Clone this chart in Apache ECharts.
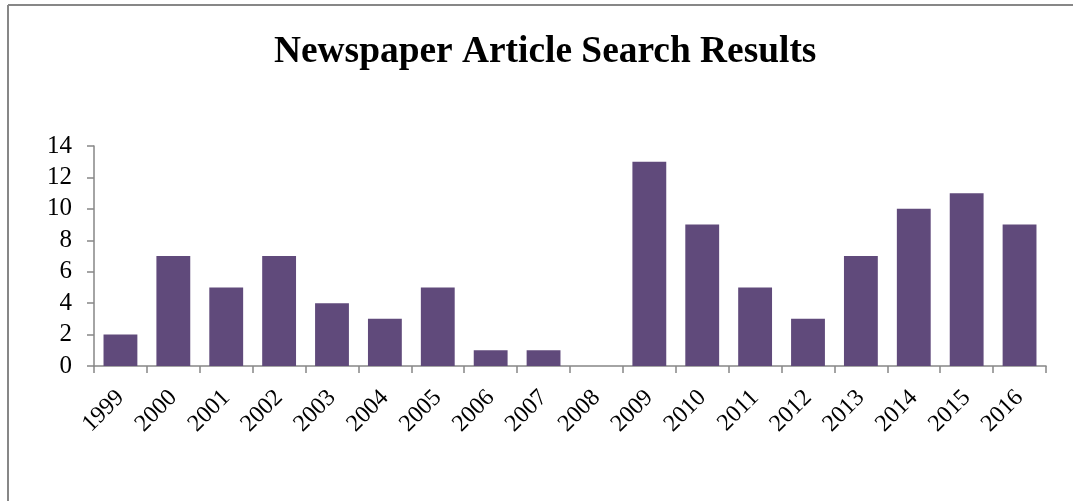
<!DOCTYPE html>
<html>
<head>
<meta charset="utf-8">
<script src="https://cdn.jsdelivr.net/npm/echarts@6/dist/echarts.min.js"></script>
<style>
  html, body { margin: 0; padding: 0; background: #fff; }
  #chart { width: 1073px; height: 501px; }
</style>
</head>
<body>
<div id="chart"></div>
<script>
// Yearly counts of newspaper articles returned by the search
const years = ['1999','2000','2001','2002','2003','2004','2005','2006','2007','2008',
               '2009','2010','2011','2012','2013','2014','2015','2016'];
const articleCounts = [2, 7, 5, 7, 4, 3, 5, 1, 1, 0, 13, 9, 5, 3, 7, 10, 11, 9];
const yTicks = { min: 0, max: 14, interval: 2 };

const serif = '"Liberation Serif", "Times New Roman", serif';
const axisGray = '#868686';

const chart = echarts.init(document.getElementById('chart'), null, { renderer: 'canvas' });
chart.setOption({
  animation: false,
  backgroundColor: '#ffffff',
  title: {
    text: 'Newspaper Article Search Results',
    left: 269,
    top: 29,
    textStyle: { fontFamily: serif, fontWeight: 'bold', fontSize: 37.4, color: '#000' }
  },
  graphic: [
    { type: 'line', shape: { x1: 8, y1: 5, x2: 1073, y2: 5 }, style: { stroke: '#878787', lineWidth: 2 } },
    { type: 'line', shape: { x1: 8, y1: 5, x2: 8, y2: 501 }, style: { stroke: '#878787', lineWidth: 2 } }
  ],
  grid: { left: 94, right: 27, top: 146, bottom: 135, containLabel: false },
  xAxis: {
    type: 'category',
    data: years,
    axisLine: { lineStyle: { color: axisGray, width: 1.5 } },
    axisTick: { show: true, length: 7, alignWithLabel: false, lineStyle: { color: axisGray, width: 1.5 } },
    axisLabel: {
      rotate: 45, margin: 28,
      fontFamily: serif, fontSize: 24, color: '#000', interval: 0
    },
    splitLine: { show: false }
  },
  yAxis: {
    type: 'value',
    min: yTicks.min,
    max: yTicks.max,
    interval: yTicks.interval,
    axisLine: { show: true, lineStyle: { color: axisGray, width: 1.5 } },
    axisTick: { show: true, length: 7, lineStyle: { color: axisGray, width: 1.5 } },
    axisLabel: { margin: 22, fontFamily: serif, fontSize: 25, color: '#000' },
    splitLine: { show: false }
  },
  series: [{
    type: 'bar',
    data: articleCounts,
    barCategoryGap: '36%',
    itemStyle: { color: '#604A7B' }
  }]
});
</script>
</body>
</html>
